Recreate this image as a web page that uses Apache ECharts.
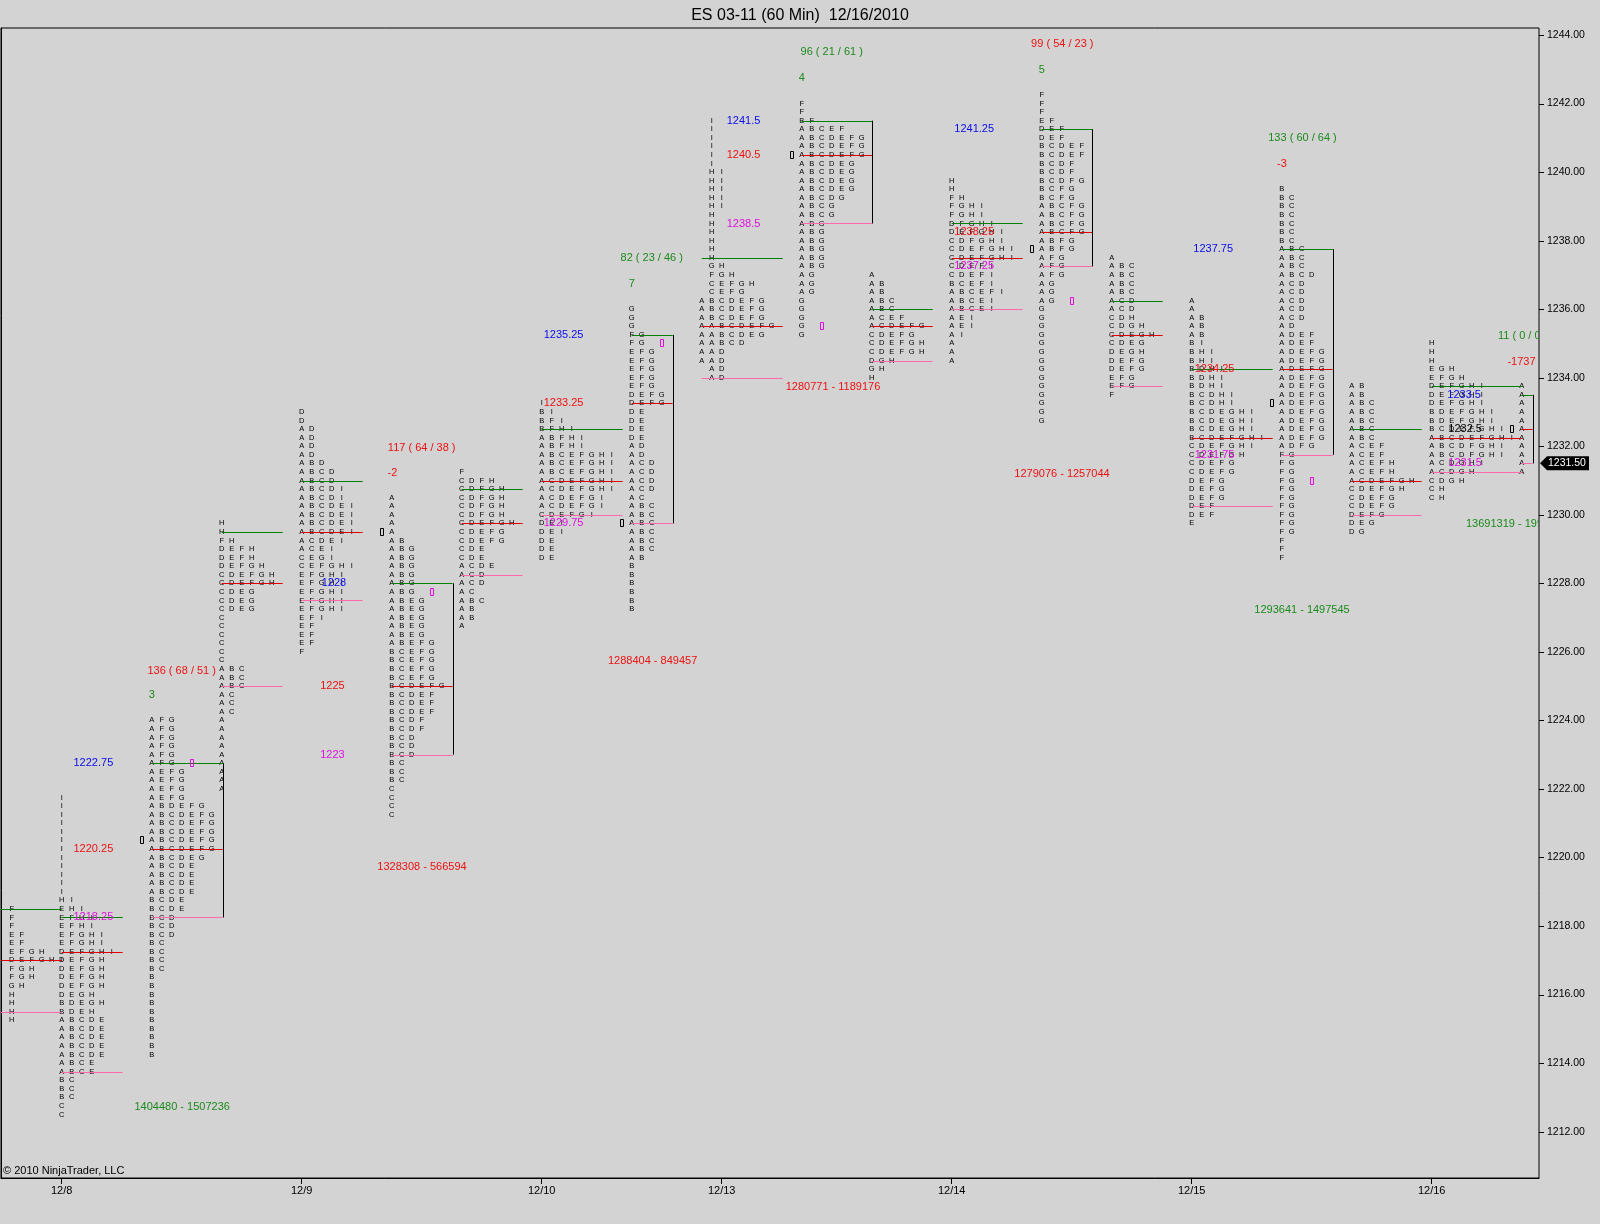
<!DOCTYPE html>
<html><head><meta charset="utf-8">
<script src="https://cdn.jsdelivr.net/npm/echarts/dist/echarts.min.js"></script>
<style>html,body{margin:0;padding:0;background:#d3d3d3;}#c{width:1600px;height:1224px;}</style>
</head><body><div id="c"></div>
<script>
// ---------- DATA ----------
const titleText = 'ES 03-11 (60 Min)  12/16/2010';
const tickSize = 0.25;
const yTicks = [1212,1214,1216,1218,1220,1222,1224,1226,1228,1230,1232,1234,1236,1238,1240,1242,1244];
const dayCols = [6,30,54,72,95,119,143];
const dayLabels = ['12/8','12/9','12/10','12/13','12/14','12/15','12/16'];
const lastPrice = 1231.5;

// profile start bar (column) and top price
const profileStart = [1,6,15,22,30,39,46,54,63,70,80,87,95,104,111,119,128,135,143,152];
const profileTop = [1218.5,1221.75,1224.0,1229.75,1233.0,1230.5,1231.25,1233.25,1236.0,1241.5,1242.0,1237.0,1239.75,1242.25,1237.5,1236.25,1239.5,1233.75,1235.0,1233.75];

// TPO rows, top to bottom (one row per 0.25)
const p01 = ['F','F','F','EF','EF','EFGH','DEFGHI','FGH','FGH','GH','H','H','H','H'];
const p02 = ['I','I','I','I','I','I','I','I','I','I','I','I','HI','EHI','EFHI','EFHI','EFGHI','EFGHI','DEFGHI','DEFGH','DEFGH','DEFGH','DEFGH','DEGH','BDEGH','BDEH','ABCDE','ABCDE','ABCDE','ABCDE','ABCDE','ABCE','ABCE','BC','BC','BC','C','C'];
const p03 = ['AFG','AFG','AFG','AFG','AFG','AFG','AEFG','AEFG','AEFG','AEFG','ABDEFG','ABCDEFG','ABCDEFG','ABCDEFG','ABCDEFG','ABCDEFG','ABCDEG','ABCDE','ABCDE','ABCDE','ABCDE','BCDE','BCDE','BCD','BCD','BCD','BC','BC','BC','BC','B','B','B','B','B','B','B','B','B','B'];
const p04 = ['H','H','FH','DEFH','DEFH','DEFGH','CDEFGH','CDEFGH','CDEG','CDEG','CDEG','C','C','C','C','C','C','ABC','ABC','ABC','AC','AC','AC','A','A','A','A','A','A','A','A','A'];
const p05 = ['D','D','AD','AD','AD','AD','ABD','ABCD','ABCD','ABCDI','ABCDI','ABCDEI','ABCDEI','ABCDEI','ABCDEI','ACDEI','ACEI','CEGI','CEFGHI','EFGHI','EFGHI','EFGHI','EFGHI','EFGHI','EFI','EF','EF','EF','F'];
const p06 = ['A','A','A','A','A','AB','ABG','ABG','ABG','ABG','ABG','ABG','ABEG','ABEG','ABEG','ABEG','ABEG','ABEFG','BCEFG','BCEFG','BCEFG','BCEFG','BCDEFG','BCDEF','BCDEF','BCDEF','BCDF','BCDF','BCD','BCD','BCD','BC','BC','BC','C','C','C','C'];
const p07 = ['F','CDFH','CDFGH','CDFGH','CDFGH','CDFGH','CDEFGH','CDEFG','CDEFG','CDE','CDE','ACDE','ACD','ACD','AC','ABC','AB','AB','A'];
const p08 = ['I','BI','BFI','BFHI','ABFHI','ABFHI','ABCEFGHI','ABCEFGHI','ABCEFGHI','ACDEFGHI','ACDEFGHI','ACDEFGI','ACDEFGI','CDEFGI','DEI','DEI','DE','DE','DE'];
const p09 = ['G','G','G','FG','FG','EFG','EFG','EFG','EFG','EFG','DEFG','DEFG','DE','DE','DE','DE','AD','AD','ACD','ACD','ACD','ACD','AC','ABC','ABC','ABC','ABC','ABC','ABC','AB','B','B','B','B','B','B'];
const p10 = [' I',' I',' I',' I',' I',' I',' HI',' HI',' HI',' HI',' HI',' H',' H',' H',' H',' H',' H',' GH',' FGH',' CEFGH',' CEFG','ABCDEFG','ABCDEFG','ABCDEFG','AABCDEFG','AABCDEG','AABCD','AAD','AAD',' AD',' AD'];
const p11 = ['F','F','BF','ABCEF','ABCDEFG','ABCDEFG','ABCDEFG','ABCDEG','ABCDEG','ABCDEG','ABCDEG','ABCDG','ABCG','ABCG','ABG','ABG','ABG','ABG','ABG','ABG','AG','AG','AG','G','G','G','G','G'];
const p12 = ['A','AB','AB','ABC','ABC','ACEF','ACDEFG','CDEFG','CDEFGH','CDEFGH','DGH','GH','H'];
const p13 = ['H','H','FH','FGHI','FGHI','DFGHI','DEFGHI','CDFGHI','CDEFGHI','CDEFGHI','CDEFI','CDEFI','BCEFI','ABCEFI','ABCEI','ABCEI','AEI','AEI','AI','A','A','A'];
const p14 = ['F','F','F','EF','DEF','DEF','BCDEF','BCDEF','BCDF','BCDF','BCDFG','BCFG','BCFG','ABCFG','ABCFG','ABCFG','ABCFG','ABFG','ABFG','AFG','AFG','AFG','AG','AG','AG','G','G','G','G','G','G','G','G','G','G','G','G','G','G'];
const p15 = ['A','ABC','ABC','ABC','ABC','ACD','ACD','CDH','CDGH','CDEGH','CDEG','DEGH','DEFG','DEFG','EFG','EFG','F'];
const p16 = ['A','A','AB','AB','AB','BI','BHI','BHI','BDHI','BDHI','BDHI','BCDHI','BCDHI','BCDEGHI','BCDEGHI','BCDEGHI','BCDEFGHI','CDEFGHI','CDEFGH','CDEFG','CDEFG','DEFG','DEFG','DEFG','DEF','DEF','E'];
const p17 = ['B','BC','BC','BC','BC','BC','BC','ABC','ABC','ABC','ABCD','ACD','ACD','ACD','ACD','ACD','AD','ADEF','ADEF','ADEFG','ADEFG','ADEFG','ADEFG','ADEFG','ADEFG','ADEFG','ADEFG','ADEFG','ADEFG','ADEFG','ADFG','FG','FG','FG','FG','FG','FG','FG','FG','FG','FG','F','F','F'];
const p18 = ['AB','AB','ABC','ABC','ABC','ABC','ABC','ACEF','ACEF','ACEFH','ACEFH','ACDEFGH','CDEFGH','CDEFG','CDEFG','DEFG','DEG','DG'];
const p19 = ['H','H','H','EGH','EFGH','DEFGHI','DEFGHI','DEFGHI','BDEFGHI','BDEFGHI','BCDEFGHI','ABCDEFGHI','ABCDFGHI','ABCDFGHI','ACDGHI','ACDGH','CDGH','CH','CH'];
const p20 = ['A','A','A','A','A','A','A','A','A','A','A'];
const profileRows = [p01,p02,p03,p04,p05,p06,p07,p08,p09,p10,p11,p12,p13,p14,p15,p16,p17,p18,p19,p20];

// value area high / point of control / value area low per profile
const vahPrice = [1218.5,1218.25,1222.75,1229.5,1231.0,1228.0,1230.75,1232.5,1235.25,1237.5,1241.5,1236.0,1238.5,1241.25,1236.25,1234.25,1237.75,1232.5,1233.75,1233.5];
const pocPrice = [1217.0,1217.25,1220.25,1228.0,1229.5,1225.0,1229.75,1231.0,1233.25,1235.5,1240.5,1235.5,1237.5,1238.25,1235.25,1232.25,1234.25,1231.0,1232.25,1232.5];
const valPrice = [1215.5,1213.75,1218.25,1225.0,1227.5,1223.0,1228.25,1230.0,1229.75,1234.0,1238.5,1234.5,1236.0,1237.25,1233.75,1230.25,1231.75,1230.0,1231.25,1231.5];
const lineFrom = [-1,6,15,22,30,39,46,54,63,70,80,87,95,104,111,119,128,135,143,152];
const lineTo = [6,12.1,22.1,28.1,36.1,45.1,52.1,62.1,67.1,78.1,87.05,93.1,102.1,109.05,116.1,127.1,133.1,142,152,153.1];
const bracketProfiles = [2,5,8,10,13,16,19];

// open (black) / close (magenta) markers
const markerCol = [14,19,38,43,62,66,79,82,103,107,127,131,151];
const markerPrice = [1220.5,1222.75,1229.5,1227.75,1229.75,1235.0,1240.5,1235.5,1237.75,1236.25,1233.25,1231.0,1232.5];
const markerKind = ['o','c','o','c','o','c','o','c','o','c','o','c','o'];

// text annotations
const annoText = ['1222.75','1220.25','1218.25','1228','1225','1223','1235.25','1233.25','1229.75','1241.5','1240.5','1238.5','1241.25','1238.25','1237.25','1237.75','1234.25','1231.75','1233.5','1232.5','1231.5',
  '136 ( 68 / 51 )','3','1404480 - 1507236',
  '117 ( 64 / 38 )','-2','1328308 - 566594',
  '82 ( 23 / 46 )','7','1288404 - 849457',
  '96 ( 21 / 61 )','4','1280771 - 1189176',
  '99 ( 54 / 23 )','5','1279076 - 1257044',
  '133 ( 60 / 64 )','-3','1293641 - 1497545',
  '11 ( 0 / 0 )','-1737','13691319 - 1996437'];
const annoCol = [7.18,7.18,7.18,32.0,31.85,31.85,54.2,54.2,54.2,72.5,72.5,72.5,95.26,95.26,95.26,119.16,119.3,119.3,144.56,144.66,144.66,
  18.0,15.0,18.05, 42.0,39.08,42.03, 65.0,63.0,65.09, 83.0,80.0,83.13, 106.06,104.0,106.03, 130.08,128.03,130.03, 149.63,151.98,146.43];
const annoPrice = [1222.75,1220.25,1218.25,1228,1225,1223,1235.25,1233.25,1229.75,1241.5,1240.5,1238.5,1241.25,1238.25,1237.25,1237.75,1234.25,1231.75,1233.5,1232.5,1231.5,
  1225.44,1224.74,1212.73, 1231.96,1231.21,1219.71, 1237.48,1236.73,1225.73, 1243.50,1242.76,1233.74, 1243.74,1242.97,1231.20, 1241.0,1240.23,1227.22, 1235.22,1234.47,1229.72];
const annoColor = ['b','r','m','b','r','m','b','r','m','b','r','m','b','r','m','b','r','m','b','k','m',
  'r','g','g', 'r','r','r', 'g','g','r', 'g','g','r', 'r','g','r', 'g','r','g', 'g','r','g'];
const annoAlign = ['l','l','l','l','l','l','l','l','l','l','l','l','l','l','l','l','l','l','l','l','l',
  'c','c','c','c','c','c','c','c','c','c','c','c','c','c','c','c','c','c','l','c','l'];

// ---------- BUILD ----------
const COLORS = {b:'#0a0aee', r:'#ee1111', m:'#e010e0', g:'#1c8a1c', k:'#000000'};
const rowVals = [], rowTxt = [];
profileRows.forEach((rows, i) => rows.forEach((s, j) => {
  rowVals.push([profileStart[i], profileTop[i] - j * tickSize]);
  rowTxt.push(s);
}));
const segVals = [], segColor = [];
vahPrice.forEach((p, i) => {
  segVals.push([lineFrom[i], lineTo[i], vahPrice[i], vahPrice[i]]); segColor.push('#008000');
  segVals.push([lineFrom[i], lineTo[i], pocPrice[i], pocPrice[i]]); segColor.push('#e00000');
  segVals.push([lineFrom[i], lineTo[i], valPrice[i], valPrice[i]]); segColor.push('#ff6aaa');
});
bracketProfiles.forEach(i => { segVals.push([lineTo[i], lineTo[i], vahPrice[i], valPrice[i]]); segColor.push('#000000'); });

const chart = echarts.init(document.getElementById('c'));
const XMIN = -0.07, XMAX = 153.73;
chart.setOption({
  animation: false,
  backgroundColor: '#d3d3d3',
  title: { text: titleText, left: 'center', top: 3, textStyle: { fontSize: 16, fontWeight: 'normal', color: '#000', fontFamily: 'Liberation Sans' } },
  grid: { left: 1, right: 61, top: 28, bottom: 46, show: true, borderColor: '#000', borderWidth: 1, backgroundColor: '#d3d3d3' },
  graphic: [{ type: 'text', left: 3, top: 1165, style: { text: '\u00a9 2010 NinjaTrader, LLC', fill: '#000', font: '11px "Liberation Sans"' } }],
  xAxis: {
    type: 'value', min: XMIN, max: XMAX,
    axisLine: { show: true, lineStyle: { color: '#000', width: 1 } },
    axisTick: { show: true, customValues: dayCols, length: 6, lineStyle: { color: '#000' } },
    axisLabel: { show: true, customValues: dayCols, margin: 7, color: '#000', fontSize: 11, fontFamily: 'Liberation Sans',
      formatter: v => { const k = dayCols.findIndex(d => Math.abs(d - v) < 1e-6); return k >= 0 ? dayLabels[k] : ''; } },
    splitLine: { show: false }
  },
  yAxis: {
    type: 'value', position: 'right', min: 1210.647, max: 1244.204,
    axisLine: { show: true, lineStyle: { color: '#000', width: 1 } },
    axisTick: { show: false },
    axisLabel: { show: true, customValues: yTicks, margin: 8, color: '#000', fontSize: 10.5, fontFamily: 'Liberation Sans', formatter: v => v.toFixed(2) },
    splitLine: { show: false }
  },
  series: [
    { // TPO letters
      type: 'custom', clip: true, silent: true, z: 2,
      data: rowVals,
      renderItem: (params, api) => {
        const t = rowTxt[params.dataIndex];
        const c = api.value(0), p = api.value(1);
        const children = [];
        for (let k = 0; k < t.length; k++) {
          if (t[k] === ' ') continue;
          const pt = api.coord([c + k, p]);
          children.push({ type: 'text', style: { text: t[k], x: pt[0], y: pt[1], align: 'center', verticalAlign: 'middle', fill: '#000', font: '7.5px "Liberation Sans"' } });
        }
        return { type: 'group', children };
      }
    },
    { // value area / POC lines and brackets
      type: 'custom', clip: true, silent: true, z: 3,
      data: segVals,
      renderItem: (params, api) => {
        const a = api.coord([api.value(0), api.value(2)]);
        const b = api.coord([api.value(1), api.value(3)]);
        const vert = Math.abs(a[0] - b[0]) < 0.01;
        const x1 = vert ? Math.round(a[0]) + 0.5 : a[0], x2 = vert ? Math.round(b[0]) + 0.5 : b[0];
        const y1 = vert ? a[1] : Math.round(a[1]) + 0.5, y2 = vert ? b[1] : Math.round(b[1]) + 0.5;
        return { type: 'line', shape: { x1, y1, x2, y2 }, style: { stroke: segColor[params.dataIndex], lineWidth: 1 } };
      }
    },
    { // open/close markers
      type: 'custom', clip: true, silent: true, z: 3,
      data: markerCol.map((c, i) => [c, markerPrice[i]]),
      renderItem: (params, api) => {
        const pt = api.coord([api.value(0), api.value(1)]);
        return { type: 'rect', shape: { x: Math.round(pt[0]) - 1.5, y: Math.round(pt[1]) - 3.5, width: 3, height: 7 },
          style: { fill: 'none', stroke: markerKind[params.dataIndex] === 'o' ? '#000' : '#e010e0', lineWidth: 1 } };
      }
    },
    { // annotations
      type: 'custom', clip: true, silent: true, z: 4,
      data: annoCol.map((c, i) => [c, annoPrice[i]]),
      renderItem: (params, api) => {
        const i = params.dataIndex;
        const pt = api.coord([api.value(0), api.value(1)]);
        return { type: 'text', style: { text: annoText[i], x: pt[0], y: pt[1], align: annoAlign[i] === 'c' ? 'center' : 'left', verticalAlign: 'middle',
          fill: COLORS[annoColor[i]], font: '11px "Liberation Sans"' } };
      }
    },
    { // price axis tick marks (outside, to the right)
      type: 'custom', clip: false, silent: true, z: 5,
      data: yTicks.map(v => [XMAX, v]),
      renderItem: (params, api) => {
        const pt = api.coord([api.value(0), api.value(1)]);
        const y = Math.round(pt[1]) + 0.5;
        return { type: 'line', shape: { x1: pt[0], y1: y, x2: pt[0] + 5, y2: y }, style: { stroke: '#000', lineWidth: 1 } };
      }
    },
    { // last price tag on the axis
      type: 'custom', clip: false, silent: true, z: 5,
      data: [[XMAX, lastPrice]],
      renderItem: (params, api) => {
        const pt = api.coord([api.value(0), api.value(1)]);
        const x = pt[0], y = pt[1];
        return { type: 'group', children: [
          { type: 'polygon', shape: { points: [[x + 1, y], [x + 8, y - 7], [x + 50, y - 7], [x + 50, y + 7], [x + 8, y + 7]] }, style: { fill: '#000' } },
          { type: 'text', style: { text: lastPrice.toFixed(2), x: x + 9, y: y, verticalAlign: 'middle', fill: '#fff', font: '10.5px "Liberation Sans"' } }
        ] };
      }
    }
  ]
});
</script></body></html>
